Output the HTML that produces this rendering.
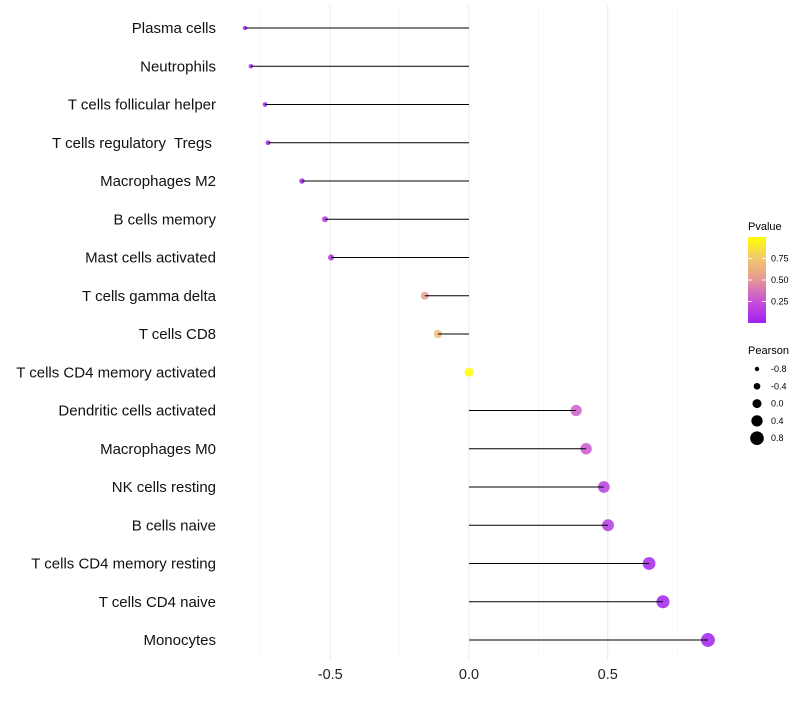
<!DOCTYPE html>
<html><head><meta charset="utf-8"><style>
body{margin:0;background:#fff;font-family:"Liberation Sans",sans-serif}
</style></head><body>
<svg id="chart" width="800" height="700" xmlns="http://www.w3.org/2000/svg">
<g id="grid"></g><g id="marks"></g><g id="stems"></g><g id="ylabels"></g><g id="xlabels"></g><g id="legend"></g>
</svg>
<script>
const categories=["Plasma cells","Neutrophils","T cells follicular helper","T cells regulatory\u00a0 Tregs\u00a0","Macrophages M2","B cells memory","Mast cells activated","T cells gamma delta","T cells CD8","T cells CD4 memory activated","Dendritic cells activated","Macrophages M0","NK cells resting","B cells naive","T cells CD4 memory resting","T cells CD4 naive","Monocytes"];
const pearson=[-0.807,-0.786,-0.735,-0.724,-0.602,-0.519,-0.497,-0.159,-0.112,0.0,0.386,0.422,0.486,0.501,0.649,0.699,0.861];
const pvalue=[0.02,0.02,0.03,0.03,0.05,0.12,0.1,0.55,0.7,1.0,0.3,0.27,0.15,0.12,0.03,0.02,0.01];
const xTicks=[-0.5,0,0.5];
const xTickLabels=["-0.5","0.0","0.5"];
const minorTicks=[-0.75,-0.25,0.25,0.75];
const pTicks=[0.25,0.5,0.75];
const sizeLegend=[-0.8,-0.4,0.0,0.4,0.8];

const NS="http://www.w3.org/2000/svg";
function mk(tag,attrs,parent){const e=document.createElementNS(NS,tag);for(const k in attrs)e.setAttribute(k,attrs[k]);parent.appendChild(e);return e;}
const x=v=>469+v*277.5;
const y=i=>28+i*38.25;
const r=v=>2.2+(v+0.8)/1.6*4.6;
const stops=[[0,[160,32,240]],[0.25,[200,80,215]],[0.5,[228,150,150]],[0.75,[242,200,110]],[1,[255,255,0]]];
function col(p){const t=Math.max(0,Math.min(1,p));let k=0;while(k<stops.length-2&&t>stops[k+1][0])k++;
const [t0,a]=stops[k],[t1,b]=stops[k+1];const f=(t-t0)/(t1-t0);
return `rgb(${a.map((c,i)=>Math.round(c+(b[i]-c)*f)).join(",")})`;}
const grid=document.getElementById('grid'),marks=document.getElementById('marks'),stems=document.getElementById('stems'),yl=document.getElementById('ylabels'),xl=document.getElementById('xlabels'),lg=document.getElementById('legend');
minorTicks.forEach(v=>{const l=mk('line',{x1:x(v),x2:x(v),y1:5,y2:660,stroke:'#f4f4f4','stroke-width':0.6},grid);
});
xTicks.forEach((v,i)=>{const l=mk('line',{x1:x(v),x2:x(v),y1:5,y2:660,stroke:'#ebebeb','stroke-width':1},grid);

const t=mk('text',{x:x(v),y:679,'text-anchor':'middle','font-size':14.5,fill:'#222'},xl);t.textContent=xTickLabels[i];
});
categories.forEach((c,i)=>{const t=mk('text',{x:216,y:y(i)+5,'text-anchor':'end','font-size':15,fill:'#111'},yl);t.textContent=c;

const d=mk('circle',{cx:x(pearson[i]),cy:y(i),r:r(pearson[i]),fill:col(pvalue[i]),'fill-opacity':0.85},marks);

const l=mk('line',{x1:x(0),x2:x(pearson[i]),y1:y(i),y2:y(i),stroke:'#000','stroke-width':1},stems);
});
// legend
const t1=mk('text',{x:748,y:230,'font-size':11},lg);t1.textContent="Pvalue";

const defs=mk('defs',{},lg);const g=mk('linearGradient',{id:'pg',x1:0,y1:1,x2:0,y2:0},defs);
[0,0.25,0.5,0.75,1].forEach(p=>mk('stop',{offset:(p*100)+'%','stop-color':col(p)},g));
const cb=mk('rect',{x:748,y:237,width:18,height:86,fill:'url(#pg)'},lg);

const py=p=>323-p*86;
pTicks.forEach(p=>{mk('line',{x1:748,x2:752,y1:py(p),y2:py(p),stroke:'#fff'},lg);mk('line',{x1:762,x2:766,y1:py(p),y2:py(p),stroke:'#fff'},lg);
const t=mk('text',{x:771,y:py(p)+3,'font-size':9},lg);t.textContent=p.toFixed(2);
});
const t2=mk('text',{x:748,y:354,'font-size':11},lg);t2.textContent="Pearson";

sizeLegend.forEach((v,i)=>{const yy=369+i*17.3;const c=mk('circle',{cx:757,cy:yy,r:r(v),fill:'#000'},lg);

const t=mk('text',{x:771,y:yy+3,'font-size':9},lg);t.textContent=v.toFixed(1);
});
</script>
</body></html>
